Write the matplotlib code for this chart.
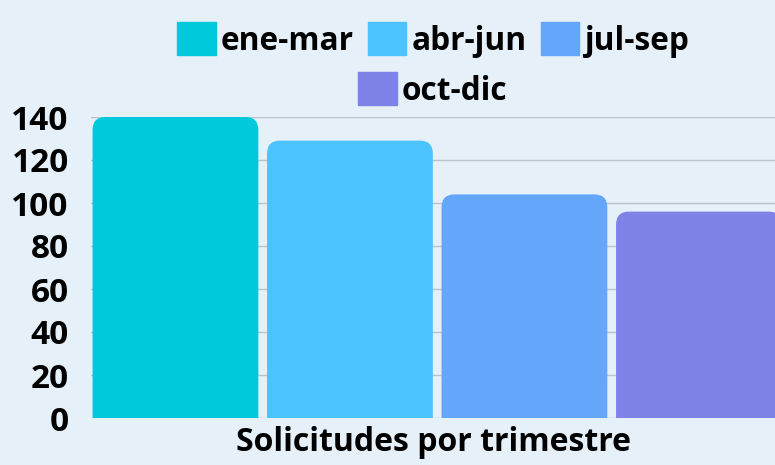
import matplotlib.pyplot as plt
from matplotlib.patches import FancyBboxPatch

categories = ['ene-mar', 'abr-jun', 'jul-sep', 'oct-dic']
values = [140, 129, 104, 96]
colors = ['#00C9DB', '#4AC3FF', '#64A6FA', '#7F83E8']
yticks = [0, 20, 40, 60, 80, 100, 120, 140]

bg = '#E6F0F8'
plt.rcParams['font.family'] = ['Open Sans', 'DejaVu Sans']
plt.rcParams['font.weight'] = 'bold'

fig = plt.figure(figsize=(7.75, 4.65), dpi=100, facecolor=bg)
ax = fig.add_axes([91 / 775, 1 - 418 / 465, (775 - 91) / 775, (418 - 117) / 465])
ax.set_facecolor(bg)

x = list(range(len(categories)))
bars = ax.bar(x, values, width=0.95, color=colors, label=categories)

# swap square bars for ones with rounded top corners
rx = 13 / 174.5
ry = 13 / 2.15
for b in bars:
    b.set_visible(False)
    p = FancyBboxPatch((b.get_x(), -ry), b.get_width(), b.get_height() + ry,
                       boxstyle=f'round,pad=0,rounding_size={rx}',
                       mutation_aspect=ry / rx, facecolor=b.get_facecolor(),
                       edgecolor='none', zorder=2)
    ax.add_patch(p)

ax.set_xlim(-0.484, 3.436)
ax.set_ylim(0, 140)
ax.set_yticks(yticks)
ax.set_xticks([])
ax.tick_params(axis='y', length=0, pad=16, labelsize=24)
for lbl in ax.get_yticklabels():
    lbl.set_fontweight('bold')
ax.grid(axis='y', color='#B8C4CC', linewidth=1)
ax.set_axisbelow(True)
for s in ax.spines.values():
    s.set_visible(False)

ax.set_xlabel('Solicitudes por trimestre', fontsize=23, fontweight='bold', labelpad=6)

handles = [plt.Rectangle((0, 0), 1, 1, color=c) for c in colors]
leg_kw = dict(frameon=False, handlelength=1.22, handleheight=1.22,
              handletextpad=0.15, columnspacing=0.45, loc='center',
              bbox_transform=fig.transFigure, prop={'weight': 'bold', 'size': 22.8})
leg1 = fig.legend(handles[:3], categories[:3], ncol=3,
                  bbox_to_anchor=(433 / 775, 1 - 40 / 465), **leg_kw)
leg2 = fig.legend(handles[3:], categories[3:], ncol=1,
                  bbox_to_anchor=(433 / 775, 1 - 90 / 465), **leg_kw)

fig.savefig('out.png', dpi=100, facecolor=bg)
